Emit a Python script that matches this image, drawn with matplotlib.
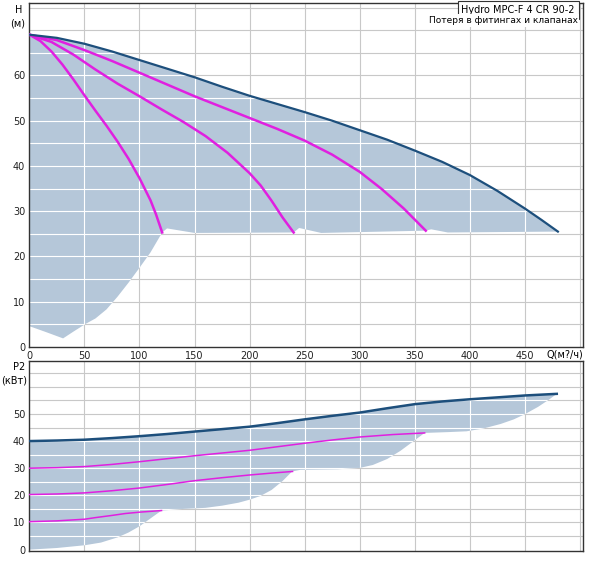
import numpy as np
import matplotlib.pyplot as plt

# --- напор H(Q), м ---
q_main = [0, 25, 50, 75, 100, 125, 150, 175, 200, 225, 250, 275, 300, 325, 350, 375, 400, 425, 450, 465, 480]
h_main = [69, 68.3, 67, 65.3, 63.4, 61.5, 59.6, 57.5, 55.5, 53.7, 51.9, 50, 47.9, 45.8, 43.4, 40.9, 38, 34.5, 30.6, 28.1, 25.5]

q_h1 = [0, 10, 20, 30, 40, 50, 60, 70, 80, 90, 100, 110, 115, 120.6]
h_h1 = [69, 67.6, 65.3, 62.4, 59.1, 55.6, 52.2, 48.9, 45.4, 41.6, 37.3, 32.4, 29.3, 25.3]

q_h2 = [0, 20, 40, 60, 80, 100, 120, 140, 160, 180, 200, 210, 220, 230, 240]
h_h2 = [69, 67.4, 64.6, 61.3, 58.2, 55.4, 52.5, 49.7, 46.6, 42.9, 38.4, 35.7, 32.3, 28.6, 25.3]

q_h3 = [0, 25, 50, 75, 100, 125, 150, 175, 200, 225, 250, 275, 300, 320, 340, 360]
h_h3 = [69, 67.8, 65.6, 63.2, 60.6, 58, 55.4, 53, 50.6, 48.2, 45.6, 42.5, 38.7, 34.9, 30.6, 25.7]

# нижняя граница заливки (H)
q_hlow = [0, 15, 30.6, 40, 51, 60, 70, 80, 90, 100, 110, 120.6, 125, 150, 240, 245, 265, 359.5, 365, 380, 480]
h_hlow = [4.6, 3.3, 1.9, 3.4, 5.1, 6.3, 8.3, 11.1, 14.2, 17.5, 20.9, 25.3, 26.2, 25.2, 25.3, 26.3, 25.2, 25.7, 26, 25.3, 25.5]

# --- мощность P2(Q), кВт ---
q_pmain = [0, 25, 50, 75, 100, 125, 150, 175, 200, 225, 250, 275, 300, 325, 350, 375, 400, 425, 450, 479]
p_main = [40, 40.2, 40.5, 41.1, 41.8, 42.6, 43.5, 44.4, 45.3, 46.6, 48.0, 49.3, 50.5, 52.1, 53.6, 54.6, 55.4, 56.1, 56.8, 57.4]

q_p1 = [0, 25, 50, 60, 75, 87, 100, 120]
p_p1 = [10.3, 10.6, 11.2, 11.8, 12.6, 13.3, 13.8, 14.4]

q_p2 = [0, 25, 50, 75, 100, 125, 150, 175, 200, 220, 239]
p_p2 = [20.3, 20.5, 20.9, 21.7, 22.7, 24.0, 25.4, 26.5, 27.5, 28.2, 28.8]

q_p3 = [0, 25, 50, 75, 100, 125, 150, 175, 200, 225, 250, 275, 300, 330, 359]
p_p3 = [30, 30.2, 30.6, 31.4, 32.4, 33.5, 34.6, 35.6, 36.6, 37.9, 39.2, 40.4, 41.5, 42.4, 43.0]

q_plow = [0, 25, 50, 65, 80, 90, 100, 110, 120, 140, 160, 175, 190, 200, 210, 220, 230, 238.6,
          246, 280, 300, 312, 325, 337, 349, 359, 380, 397, 412, 428, 440, 450, 462, 472, 479]
p_plow = [0, 0.6, 1.6, 2.6, 4.5, 6.3, 8.6, 11.5, 14.4, 15.0, 15.4, 16.2, 17.3, 18.4, 19.8, 22.0, 25.3, 28.8,
          29.4, 29.6, 30.1, 31.2, 33.4, 36.4, 40.0, 43.0, 43.3, 43.6, 44.6, 46.3, 48.0, 49.9, 52.6, 55.3, 57.4]

FILL = '#b5c7d9'
DARK = '#1d4f7c'
MAG = '#e020e0'
GRID = '#c8c8c8'

fig = plt.figure(figsize=(6, 5.82), dpi=100)
ax1 = fig.add_axes([0.049, 0.4038, 0.923, 0.591])
ax2 = fig.add_axes([0.049, 0.0533, 0.923, 0.3264])


def setup(ax, ylim, poly):
    ax.set_xlim(0, 503)
    ax.set_ylim(*ylim)
    for x in range(50, 501, 50):
        ax.axvline(x, color=GRID, lw=0.8, zorder=0)
        ax.axvline(x, color='white', lw=0.8, zorder=2).set_clip_path(poly)
    for y in range(5, int(ylim[1]) + 1, 5):
        ax.axhline(y, color=GRID, lw=0.8, zorder=0)
        ax.axhline(y, color='white', lw=0.8, zorder=2).set_clip_path(poly)
    for s in ax.spines.values():
        s.set_color('#333333')
        s.set_linewidth(1)
    ax.tick_params(length=0, labelsize=7, pad=3, colors='#222222')


# верхний график
poly1 = ax1.fill(q_main + q_hlow[::-1], h_main + h_hlow[::-1], color=FILL, lw=0, zorder=1)[0]
setup(ax1, (0, 76), poly1)
ax1.plot(q_h1, h_h1, color=MAG, lw=1.8, zorder=3)
ax1.plot(q_h2, h_h2, color=MAG, lw=1.8, zorder=3)
ax1.plot(q_h3, h_h3, color=MAG, lw=1.8, zorder=3)
ax1.plot(q_main, h_main, color=DARK, lw=1.6, zorder=4)
ax1.set_xticks(range(0, 451, 50))
ax1.set_yticks(range(0, 61, 10))
ax1.text(-0.012, 0.98, 'H', transform=ax1.transAxes, ha='right', va='center', fontsize=7)
ax1.text(-0.008, 0.94, '(м)', transform=ax1.transAxes, ha='right', va='center', fontsize=7)
ax1.text(1.0, -0.022, 'Q(м?/ч)', transform=ax1.transAxes, ha='right', va='center', fontsize=7)
ax1.text(0.985, 0.98, 'Hydro MPC-F 4 CR 90-2', transform=ax1.transAxes, ha='right', va='center',
         fontsize=7, zorder=6,
         bbox=dict(boxstyle='square,pad=0.4', fc='white', ec='#333333', lw=0.8))
ax1.text(0.99, 0.95, 'Потеря в фитингах и клапанах', transform=ax1.transAxes, ha='right', va='center',
         fontsize=6.5, zorder=6, bbox=dict(boxstyle='square,pad=0.2', fc='white', ec='none'))

# нижний график
poly2 = ax2.fill(q_pmain + q_plow[::-1], p_main + p_plow[::-1], color=FILL, lw=0, zorder=1)[0]
setup(ax2, (-0.5, 69.5), poly2)
ax2.plot(q_p1, p_p1, color=MAG, lw=1.1, zorder=3)
ax2.plot(q_p2, p_p2, color=MAG, lw=1.1, zorder=3)
ax2.plot(q_p3, p_p3, color=MAG, lw=1.1, zorder=3)
ax2.plot(q_pmain, p_main, color=DARK, lw=1.8, zorder=4)
ax2.set_xticks([])
ax2.set_yticks(range(0, 51, 10))
ax2.text(-0.008, 0.97, 'P2', transform=ax2.transAxes, ha='right', va='center', fontsize=7)
ax2.text(-0.004, 0.9, '(кВт)', transform=ax2.transAxes, ha='right', va='center', fontsize=7)

fig.savefig('out.png', dpi=100)
